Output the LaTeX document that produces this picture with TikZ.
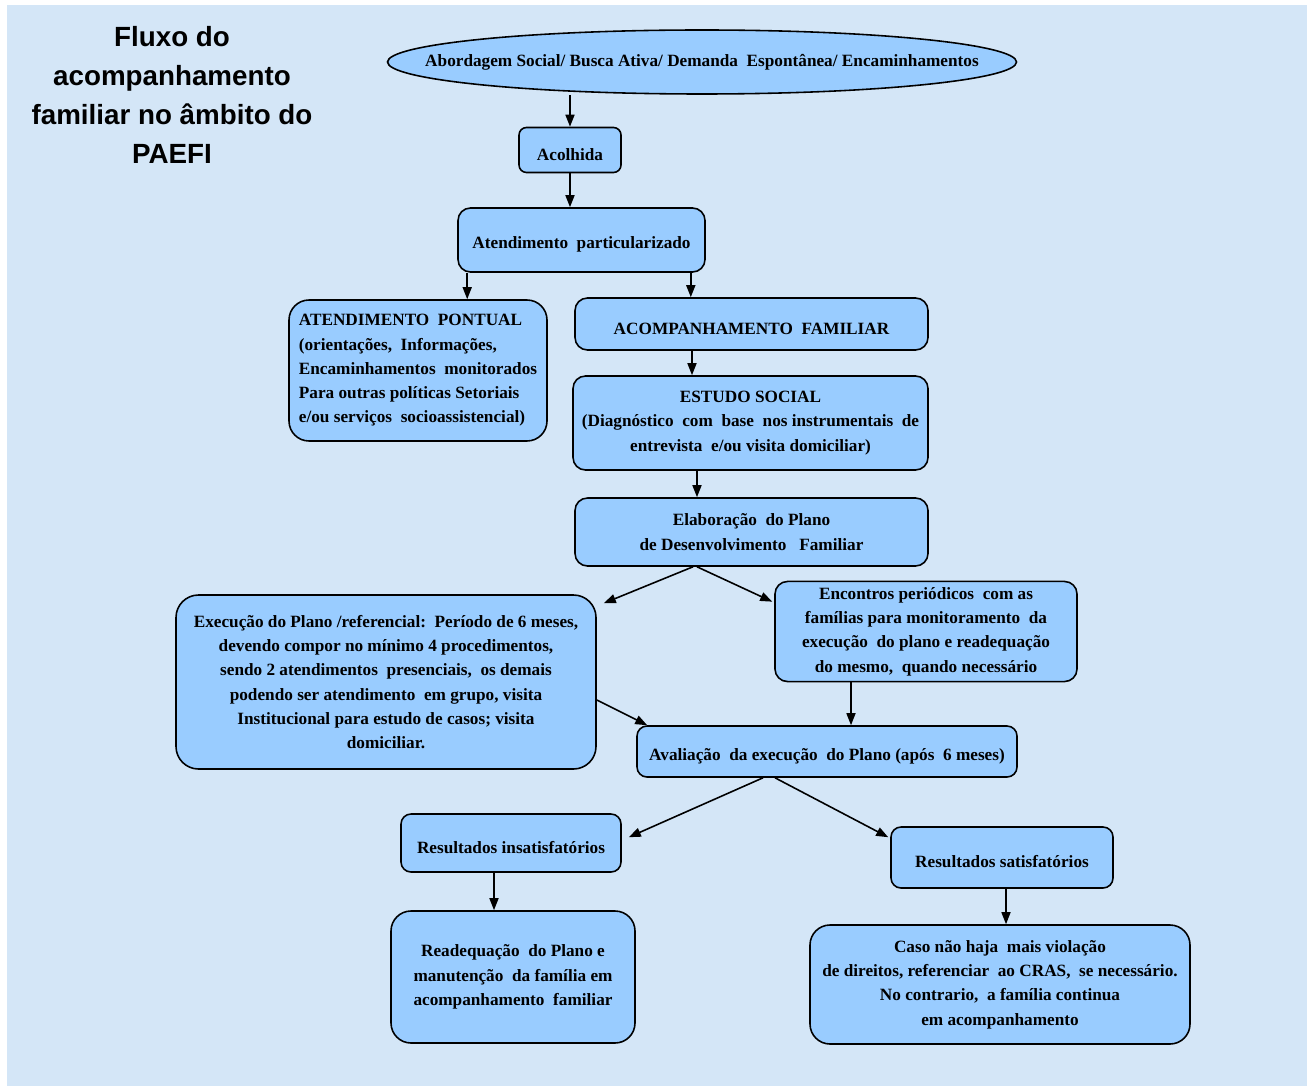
\documentclass[tikz,border=0pt]{standalone}
\usepackage{fontspec}
\setmainfont{Liberation Serif}
\newfontfamily\titlefont{Liberation Sans}
\usetikzlibrary{shapes,arrows.meta,calc}
\definecolor{boxblue}{HTML}{99CCFF}
\definecolor{pagebg}{HTML}{D4E6F7}
\newcommand{\boxfont}{\bfseries\fontsize{9.8}{13.8}\selectfont}

\begin{document}
\begin{tikzpicture}[
  box/.style={rectangle, rounded corners=2.5mm, draw, line width=0.9pt, fill=boxblue, align=center, font=\boxfont,
    execute at begin node={\rule{0pt}{12pt}}},
  arr/.style={-{Triangle[length=2.4mm,width=1.8mm]}, line width=0.9pt, black}
]
  % page and background
  \useasboundingbox[fill=white] (0,0) rectangle (26.28,-21.8);
  \fill[pagebg] (0.14,-0.1) rectangle (26.14,-21.72);

  % title
  \node[font=\titlefont\bfseries\fontsize{15.8}{22.2}\selectfont, align=center] (title) at (3.44,-1.89)
    {Fluxo do\\acompanhamento\\familiar no âmbito do\\PAEFI};

  % boxes
  \node[ellipse, draw, line width=0.9pt, fill=boxblue, font=\boxfont, inner xsep=-40pt, minimum width=125.8mm, minimum height=12.8mm] (abord) at (14.04,-1.24)
    {Abordagem Social/ Busca Ativa/ Demanda\ \ Espontânea/ Encaminhamentos};
  \node[box, rounded corners=1.5mm, minimum width=20.4mm, minimum height=9mm] (acolhida) at (11.40,-3.00) {Acolhida};
  \node[box, minimum width=49.4mm, minimum height=12.8mm] (atend) at (11.63,-4.80) {Atendimento\ \ particularizado};
  \node[box, rounded corners=4mm, align=left, minimum width=51.6mm, minimum height=28.2mm] (pontual) at (8.36,-7.41)
    {ATENDIMENTO\ \ PONTUAL\\(orientações,\ \ Informações,\\Encaminhamentos\ \ monitorados\\Para outras políticas Setoriais\\e/ou serviços\ \ socioassistencial)};
  \node[box, minimum width=70.6mm, minimum height=10.4mm] (acomp) at (15.03,-6.48) {ACOMPANHAMENTO\ \ FAMILIAR};
  \node[box, minimum width=71mm, minimum height=18.8mm] (estudo) at (15.01,-8.46)
    {ESTUDO SOCIAL\\(Diagnóstico\ \ com\ \ base\ \ nos instrumentais\ \ de\\entrevista\ \ e/ou visita domiciliar)};
  \node[box, minimum width=70.6mm, minimum height=13.6mm] (elab) at (15.03,-10.64)
    {Elaboração\ \ do Plano\\de Desenvolvimento\ \ \ Familiar};
  \node[box, rounded corners=4.5mm, minimum width=84mm, minimum height=34.8mm] (exec) at (7.72,-13.64)
    {Execução do Plano /referencial:\ \ Período de 6 meses,\\devendo compor no mínimo 4 procedimentos,\\sendo 2 atendimentos\ \ presenciais,\ \ os demais\\podendo ser atendimento\ \ em grupo, visita\\Institucional para estudo de casos; visita\\domiciliar.};
  \node[box, minimum width=60.4mm, minimum height=18.6mm] (encont) at (18.52,-12.63)
    {Encontros periódicos\ \ com as\\famílias para monitoramento\ \ da\\execução\ \ do plano e readequação\\do mesmo,\ \ quando necessário};
  \node[box, rounded corners=2mm, minimum width=76mm, minimum height=10.2mm] (aval) at (16.54,-15.03)
    {Avaliação\ \ da execução\ \ do Plano (após\ \ 6 meses)};
  \node[box, rounded corners=2mm, minimum width=44mm, minimum height=11.6mm] (insat) at (10.22,-16.86) {Resultados insatisfatórios};
  \node[box, rounded corners=2mm, minimum width=44.4mm, minimum height=12.2mm] (sat) at (20.04,-17.15) {Resultados satisfatórios};
  \node[box, rounded corners=4mm, minimum width=48.8mm, minimum height=26.4mm] (readeq) at (10.26,-19.54)
    {Readequação\ \ do Plano e\\manutenção\ \ da família em\\acompanhamento\ \ familiar};
  \node[box, rounded corners=4mm, minimum width=76mm, minimum height=23.8mm] (caso) at (20.00,-19.69)
    {Caso não haja\ \ mais violação\\de direitos, referenciar\ \ ao CRAS,\ \ se necessário.\\No contrario,\ \ a família continua\\em acompanhamento};

  % connectors
  \draw[arr] (acolhida.north |- abord.south) -- (acolhida.north);
  \draw[arr] (acolhida.south) -- (acolhida.south |- atend.north);
  \draw[arr] ([xshift=2mm]atend.south west) -- ([xshift=2mm]atend.south west |- pontual.north);
  \draw[arr] ([xshift=-3mm]atend.south east) -- ([xshift=-3mm]atend.south east |- acomp.north);
  \draw[arr] ([xshift=-11.9mm]acomp.south) -- ([xshift=-11.9mm]acomp.south |- estudo.north);
  \draw[arr] ([xshift=-10.7mm]estudo.south) -- ([xshift=-10.7mm]estudo.south |- elab.north);
  \draw[arr] ([xshift=-11.7mm]elab.south) -- ([shift={(1.4mm,-1.8mm)}]exec.north east);
  \draw[arr] ([xshift=-10.9mm]elab.south) -- ([shift={(-0.4mm,-4.2mm)}]encont.north west);
  \draw[arr] ([xshift=-15mm]encont.south) -- ([xshift=-15mm]encont.south |- aval.north);
  \draw[arr] ([yshift=-3.6mm]exec.east) -- ([xshift=2.2mm]aval.north west);
  \draw[arr] ([xshift=-12.8mm]aval.south) -- ([shift={(1.4mm,-4.8mm)}]insat.north east);
  \draw[arr] ([xshift=-10.4mm]aval.south) -- ([shift={(-0.4mm,-2.2mm)}]sat.north west);
  \draw[arr] ([xshift=-3.4mm]insat.south) -- ([xshift=-3.4mm]insat.south |- readeq.north);
  \draw[arr] ([xshift=0.8mm]sat.south) -- ([xshift=0.8mm]sat.south |- caso.north);
\end{tikzpicture}
\end{document}
